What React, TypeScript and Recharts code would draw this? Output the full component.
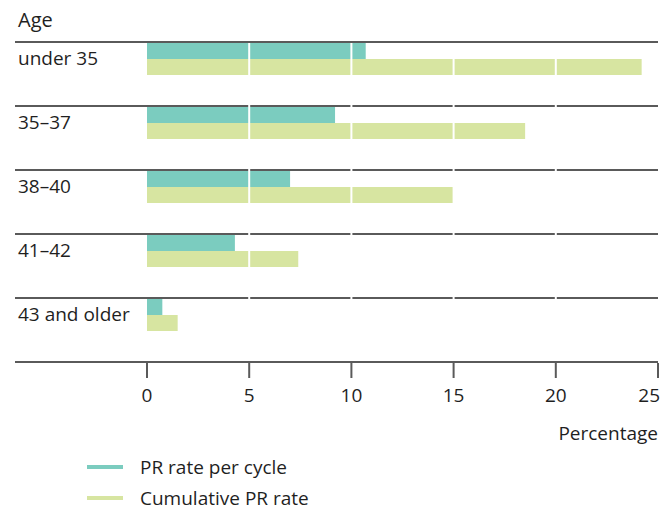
import { BarChart, Bar, XAxis, YAxis, ReferenceLine, Label } from "recharts";

const ageGroups = ["under 35", "35–37", "38–40", "41–42", "43 and older"];
const perCycle = [10.7, 9.2, 7.0, 4.3, 0.75];
const cumulative = [24.2, 18.5, 15.0, 7.4, 1.5];
const xTicks = [0, 5, 10, 15, 20, 25];
const gridAt = [5, 10, 15, 20];
const seriesNames = ["PR rate per cycle", "Cumulative PR rate"];

const TEAL = "#7bccbf";
const LIME = "#d7e5a1";
const INK = "#1f1f1f";
const RULE = "#5a5a5a";
const FONT = "'Open Sans', sans-serif";
const FS = 19;
const RULE_LEFT = 15;

const data = ageGroups.map((age, i) => ({
  age,
  perCycle: perCycle[i],
  cumulative: cumulative[i],
}));

// bars sit at the top of each band instead of the centre
const BAR = 16;
const TopBar = (p: any) => (
  <rect x={p.x} y={p.y - BAR} width={p.width} height={p.height} fill={p.fill} />
);

// separator rules run on under the age labels
const Rule = (p: any) => (
  <line x1={RULE_LEFT} x2={p.x2} y1={p.y1 - 1} y2={p.y2 - 1} stroke={RULE} strokeWidth={2} />
);

const AgeTick = (p: any) => (
  <text x={18} y={p.y - 10} fill={INK} fontSize={FS} fontFamily={FONT}>
    {p.payload.value}
  </text>
);

const PctTick = (p: any) => {
  const last = p.payload.value === xTicks[xTicks.length - 1];
  return (
    <text
      x={last ? p.x + 2 : p.x}
      y={p.y + 14}
      textAnchor={last ? "end" : "middle"}
      fill={INK}
      fontSize={FS}
      fontFamily={FONT}
    >
      {p.payload.value}
    </text>
  );
};

export default function App() {
  return (
    <div style={{ position: "absolute", left: 0, top: 0, width: 670, height: 512, background: "#fff" }}>
      <BarChart
        width={670}
        height={512}
        data={data}
        layout="vertical"
        margin={{ top: 43, right: 12, bottom: 69, left: 15 }}
        barSize={BAR}
        barGap={0}
      >
        <XAxis
          type="number"
          domain={[0, 25]}
          ticks={xTicks}
          axisLine={false}
          tickSize={15}
          tickLine={{ stroke: RULE, strokeWidth: 2 }}
          tickMargin={10}
          tick={<PctTick />}
          height={80}
        >
          <Label
            value="Percentage"
            position="insideBottomRight"
            offset={0}
            dy={-3}
            style={{ fill: INK, fontSize: FS, fontFamily: FONT }}
          />
        </XAxis>
        <YAxis
          type="category"
          dataKey="age"
          width={132}
          axisLine={false}
          tickLine={false}
          tick={<AgeTick />}
          interval={0}
        >
          <Label
            content={(props: any) => (
              <text x={18} y={props.viewBox.y - 16} fill={INK} fontSize={20} fontFamily={FONT}>
                Age
              </text>
            )}
          />
        </YAxis>
        <Bar dataKey="perCycle" name={seriesNames[0]} fill={TEAL} shape={TopBar} isAnimationActive={false} />
        <Bar dataKey="cumulative" name={seriesNames[1]} fill={LIME} shape={TopBar} isAnimationActive={false} />
        {ageGroups.map((g) => (
          <ReferenceLine key={g} y={g} position="start" shape={Rule} />
        ))}
        {gridAt.map((v) => (
          <ReferenceLine key={v} x={v} stroke="#fff" strokeWidth={2} />
        ))}
        <ReferenceLine y={ageGroups[ageGroups.length - 1]} position="end" shape={Rule} />
      </BarChart>
      <div style={{ position: "absolute", left: 87, top: 451, fontFamily: FONT, fontSize: FS, color: INK }}>
        {seriesNames.map((name, i) => (
          <div key={name} style={{ display: "flex", alignItems: "center", height: 31 }}>
            <span style={{ display: "inline-block", width: 36, height: 4, background: i === 0 ? TEAL : LIME, marginRight: 17 }} />
            {name}
          </div>
        ))}
      </div>
    </div>
  );
}
